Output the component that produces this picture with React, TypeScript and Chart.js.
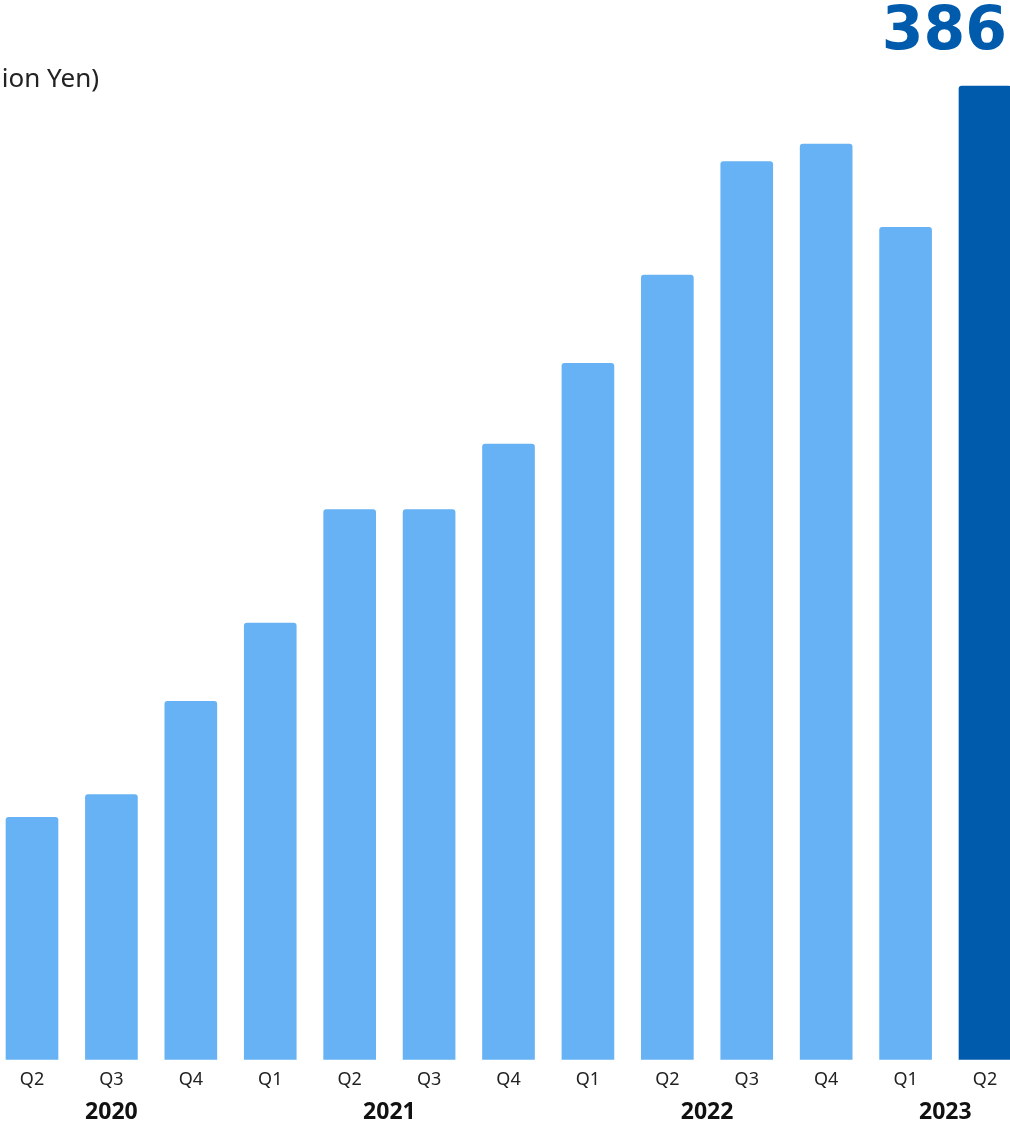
import React, { useEffect, useRef } from "react";
import { Chart, registerables } from "chart.js";

Chart.register(...registerables);

const quarters = ["Q2", "Q3", "Q4", "Q1", "Q2", "Q3", "Q4", "Q1", "Q2", "Q3", "Q4", "Q1", "Q2"];
const yearLabels = ["2020", "2021", "2022", "2023"];
const yearStart = [0, 3, 7, 11];
const yearEnd = [2, 6, 10, 12];
const values = [96, 105, 142, 173, 218, 218, 244, 276, 311, 356, 363, 330, 386];
const unitLabel = "(100 Million Yen)";
const highlightLabel = "386";

const LIGHT = "#66B2F4";
const DARK = "#005BAC";

export default function App() {
  const ref = useRef<HTMLCanvasElement | null>(null);

  useEffect(() => {
    const canvas = ref.current;
    if (!canvas) return;
    const lastIdx = values.length - 1;

    const overlay = {
      id: "overlay",
      afterDatasetsDraw(chart: any) {
        const ctx = chart.ctx;
        const xScale = chart.scales.x;
        ctx.save();
        // unit label (partly off-canvas on the left, as in the reference)
        ctx.font = "26px 'Noto Sans'";
        ctx.fillStyle = "#222222";
        ctx.textAlign = "right";
        ctx.textBaseline = "alphabetic";
        ctx.fillText(unitLabel, 99, 87);
        // year labels
        ctx.font = "bold 23px 'Noto Sans'";
        ctx.fillStyle = "#111111";
        ctx.textAlign = "center";
        ctx.textBaseline = "middle";
        yearLabels.forEach((y, i) => {
          const x = (xScale.getPixelForValue(yearStart[i]) + xScale.getPixelForValue(yearEnd[i])) / 2;
          ctx.fillText(y, x, 1112);
        });
        // highlight value
        const bar = chart.getDatasetMeta(0).data[lastIdx];
        ctx.font = "bold 60px 'DejaVu Sans'";
        ctx.fillStyle = DARK;
        ctx.textAlign = "right";
        ctx.textBaseline = "alphabetic";
        ctx.fillText(highlightLabel, bar.x + 22, bar.y - 37);
        ctx.restore();
      },
    };

    const chart = new Chart(canvas, {
      type: "bar",
      data: {
        labels: quarters,
        datasets: [
          {
            data: values,
            backgroundColor: values.map((_, i) => (i === lastIdx ? DARK : LIGHT)),
            barThickness: 52,
            borderRadius: { topLeft: 3, topRight: 3, bottomLeft: 0, bottomRight: 0 },
            borderSkipped: "start",
            clip: false as any,
          },
        ],
      },
      options: {
        responsive: false,
        animation: false,
        layout: { padding: { left: 32, right: 25, top: 86, bottom: 23 } },
        plugins: { legend: { display: false }, tooltip: { enabled: false } },
        scales: {
          x: {
            offset: false,
            grid: { display: false, drawTicks: false },
            border: { display: false },
            ticks: {
              padding: 10,
              color: "#222222",
              font: { family: "'Noto Sans'", size: 18 },
              maxRotation: 0,
              autoSkip: false,
            },
          },
          y: {
            display: false,
            min: 0,
            max: 386,
          },
        },
      },
      plugins: [overlay],
    });
    return () => chart.destroy();
  }, []);

  return (
    <div style={{ position: "absolute", left: 0, top: 0, width: 1010, height: 1124, background: "#fff" }}>
      <canvas ref={ref} width={1010} height={1124} style={{ display: "block" }} />
    </div>
  );
}
